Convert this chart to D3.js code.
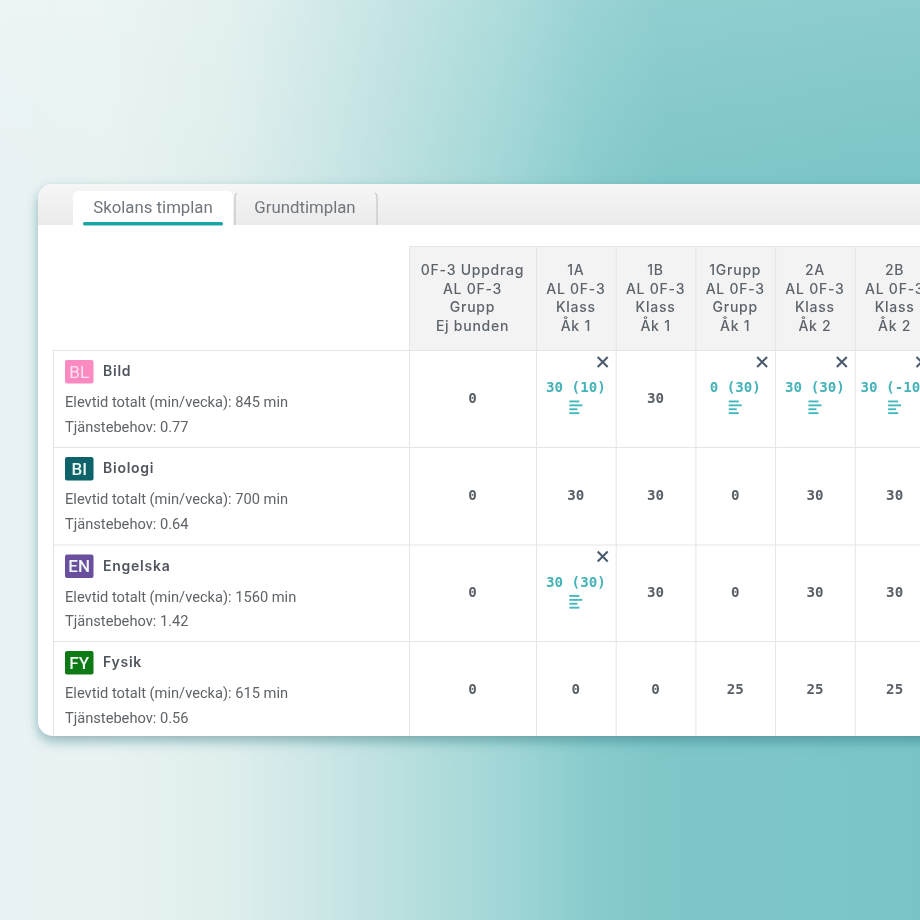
<!DOCTYPE html>
<html><head><meta charset="utf-8">
<script src="https://cdn.jsdelivr.net/npm/d3@7"></script>
<style>html,body{margin:0;padding:0;background:#fff}svg{display:block}</style>
</head><body><div id="c"></div>
<script>
const tabs = ["Skolans timplan", "Grundtimplan"];
const columns = [
  ["0F-3 Uppdrag","AL 0F-3","Grupp","Ej bunden"],
  ["1A","AL 0F-3","Klass","Åk 1"],
  ["1B","AL 0F-3","Klass","Åk 1"],
  ["1Grupp","AL 0F-3","Grupp","Åk 1"],
  ["2A","AL 0F-3","Klass","Åk 2"],
  ["2B","AL 0F-3","Klass","Åk 2"]
];
const subjects = ["Bild","Biologi","Engelska","Fysik"];
const codes = ["BL","BI","EN","FY"];
const codeColors = ["#fb8ac2","#0b6469","#6a4f9e","#0f7a12"];
const elevtid = [845,700,1560,615];
const tjanst = ["0.77","0.64","1.42","0.56"];
const values = [
  ["0","30 (10)","30","0 (30)","30 (30)","30 (-10)"],
  ["0","30","30","0","30","30"],
  ["0","30 (30)","30","0","30","30"],
  ["0","0","0","25","25","25"]
];
const W=920,H=920;
const svg=d3.select("#c").append("svg").attr("width",W).attr("height",H);
const defs=svg.append("defs");
const lg=defs.append("linearGradient").attr("id","bg").attr("x1",0).attr("x2",1).attr("y1",0).attr("y2",0);
[[0,"#e9f2f4"],[.11,"#e8f3f2"],[.25,"#deeeed"],[.33,"#d0e8e8"],[.44,"#b8dfde"],[.54,"#a3d7d7"],[.64,"#8accce"],[.72,"#7fc6c9"],[1,"#7ac4c7"]]
 .forEach(s=>lg.append("stop").attr("offset",s[0]).attr("stop-color",s[1]));
const tv=defs.append("linearGradient").attr("id","veil").attr("x1",0).attr("x2",0).attr("y1",0).attr("y2",1);
tv.append("stop").attr("offset",0).attr("stop-color","#fff").attr("stop-opacity",.14);
tv.append("stop").attr("offset",1).attr("stop-color","#fff").attr("stop-opacity",0);
const tg=defs.append("linearGradient").attr("id","band").attr("x1",0).attr("x2",0).attr("y1",0).attr("y2",1);
tg.append("stop").attr("offset",0).attr("stop-color","#f6f6f6");
tg.append("stop").attr("offset",1).attr("stop-color","#ebebeb");
const sh=defs.append("filter").attr("id","sh").attr("x","-10%").attr("y","-10%").attr("width","120%").attr("height","120%");
sh.append("feDropShadow").attr("dx",0).attr("dy",5).attr("stdDeviation",6).attr("flood-color","#1f5f68").attr("flood-opacity",.42);
const bl=defs.append("filter").attr("id","soft").attr("filterUnits","userSpaceOnUse").attr("x",0).attr("y",0).attr("width",W).attr("height",H);
bl.append("feGaussianBlur").attr("stdDeviation",.45);
defs.append("clipPath").attr("id","card").append("rect").attr("x",38).attr("y",184).attr("width",920).attr("height",552).attr("rx",15);

svg.append("rect").attr("width",W).attr("height",H).attr("fill","url(#bg)");
svg.append("rect").attr("width",W).attr("height",190).attr("fill","url(#veil)");
svg.append("rect").attr("x",38).attr("y",184).attr("width",920).attr("height",552).attr("rx",15).attr("fill","#fff").attr("filter","url(#sh)");
const root=svg.append("g").attr("clip-path","url(#card)").append("g").attr("filter","url(#soft)");
root.append("rect").attr("x",38).attr("y",184).attr("width",920).attr("height",41).attr("fill","url(#band)");

// tabs
root.append("path").attr("d","M73,225V197q0,-6,6,-6H227q6,0,6,6V225Z").attr("fill","#fff");
root.append("rect").attr("x",83).attr("y",222).attr("width",140).attr("height",3.5).attr("rx",1.5).attr("fill","#1fa5a6");
root.append("path").attr("d","M235,225V197q0,-3,2,-4M375,193q2,1,2,4V225").attr("fill","none").attr("stroke","#c4c6c7").attr("stroke-width",1.2);
const tabX=d3.scalePoint().domain(tabs).range([153,305]);
root.selectAll("text.tab").data(tabs).join("text").attr("class","tab")
  .attr("x",d=>tabX(d)).attr("y",212.5).attr("text-anchor","middle")
  .attr("font-family","Roboto").attr("font-size",16.8).attr("fill","#6f767c").text(d=>d);

// scales
const colEdge=d3.scaleLinear().domain([0,1,7]).range([409,536,1014.2]);
const rowEdge=d3.scaleLinear().domain([0,1,2,3,4]).range([350,447,544.5,641,738]);
const colMid=i=>(colEdge(i)+colEdge(i+1))/2;

// header
root.append("rect").attr("x",colEdge(0)).attr("y",246).attr("width",colEdge(6)-colEdge(0)).attr("height",104).attr("fill","#f3f3f3");
const lineC="#e4e5e5";
const lineY=d3.scalePoint().domain(d3.range(4)).range([275,331]);
const hdr=root.selectAll("g.h").data(columns).join("g").attr("class","h");
hdr.selectAll("text").data((d,i)=>d.map((t,j)=>({t,j,i}))).join("text")
  .attr("x",d=>colMid(d.i)).attr("y",d=>lineY(d.j)).attr("text-anchor","middle")
  .attr("font-family","Inter").attr("font-size",14).attr("font-weight",500).attr("fill","#5b636b")
  .attr("letter-spacing",.75).text(d=>d.t);

// grid
const vx=d3.range(0,7);
root.selectAll("line.v").data(vx).join("line").attr("class","v")
  .attr("x1",d=>colEdge(d)+.5).attr("x2",d=>colEdge(d)+.5).attr("y1",246).attr("y2",740)
  .attr("stroke",lineC).attr("stroke-width",1);
root.append("line").attr("x1",53.5).attr("x2",53.5).attr("y1",350).attr("y2",740).attr("stroke",lineC);
root.selectAll("line.r").data(d3.range(0,4)).join("line").attr("class","r")
  .attr("x1",53).attr("x2",W).attr("y1",d=>rowEdge(d)+.5).attr("y2",d=>rowEdge(d)+.5).attr("stroke",lineC);
root.append("line").attr("x1",409).attr("x2",W).attr("y1",246.5).attr("y2",246.5).attr("stroke",lineC);

// row labels
const rows=root.selectAll("g.row").data(subjects).join("g").attr("class","row")
  .attr("transform",(d,i)=>`translate(0,${rowEdge(i)})`);
rows.append("rect").attr("x",65).attr("y",10).attr("width",28.5).attr("height",23.5).attr("rx",2)
  .attr("fill",(d,i)=>codeColors[i]);
rows.append("text").attr("x",79.2).attr("y",27.5).attr("text-anchor","middle").attr("font-family","Roboto")
  .attr("font-size",17).attr("font-weight",(d,i)=>i?500:400).attr("fill",(d,i)=>i?"#eef7f5":"#fde3f0").text((d,i)=>codes[i]);
rows.append("text").attr("x",103).attr("y",26).attr("font-family","Inter").attr("font-size",14).attr("font-weight",600)
  .attr("letter-spacing",.75).attr("fill","#50565f").text(d=>d);
rows.append("text").attr("x",65).attr("y",57).attr("font-family","Roboto").attr("font-size",14.65).attr("fill","#5f6468")
  .text((d,i)=>`Elevtid totalt (min/vecka): ${elevtid[i]} min`);
rows.append("text").attr("x",65).attr("y",81.5).attr("font-family","Roboto").attr("font-size",14.65).attr("fill","#5f6468")
  .text((d,i)=>`Tjänstebehov: ${tjanst[i]}`);

// cells
const cells=rows.selectAll("g.cell").data((d,i)=>values[i].map((v,c)=>({v,c,r:i}))).join("g").attr("class","cell")
  .attr("transform",d=>`translate(${colMid(d.c)},0)`);
cells.each(function(d){
  const g=d3.select(this), ed=d.v.includes("(");
  const rowH=rowEdge(1)-rowEdge(0);
  g.append("text").attr("y",ed?42:rowH/2+4)
   .attr("text-anchor","middle").attr("font-family","DejaVu Sans Mono").attr("font-size",14.2).attr("font-weight",700)
   .attr("fill",ed?"#45b3b8":"#5a6068").text(d.v);
  if(ed){
    const xr=colEdge(d.c+1)-colMid(d.c)-13;
    g.append("path").attr("d",`M${xr-5},7L${xr+5},17M${xr+5},7L${xr-5},17`)
     .attr("stroke","#4a5a6c").attr("stroke-width",2).attr("fill","none");
    [10,13,8,10].forEach((w,k)=>{
      g.append("rect").attr("x",-6.5).attr("y",50.5+k*3.9).attr("width",w).attr("height",1.9).attr("fill","#45b8bd");
    });
  }
});
</script></body></html>
